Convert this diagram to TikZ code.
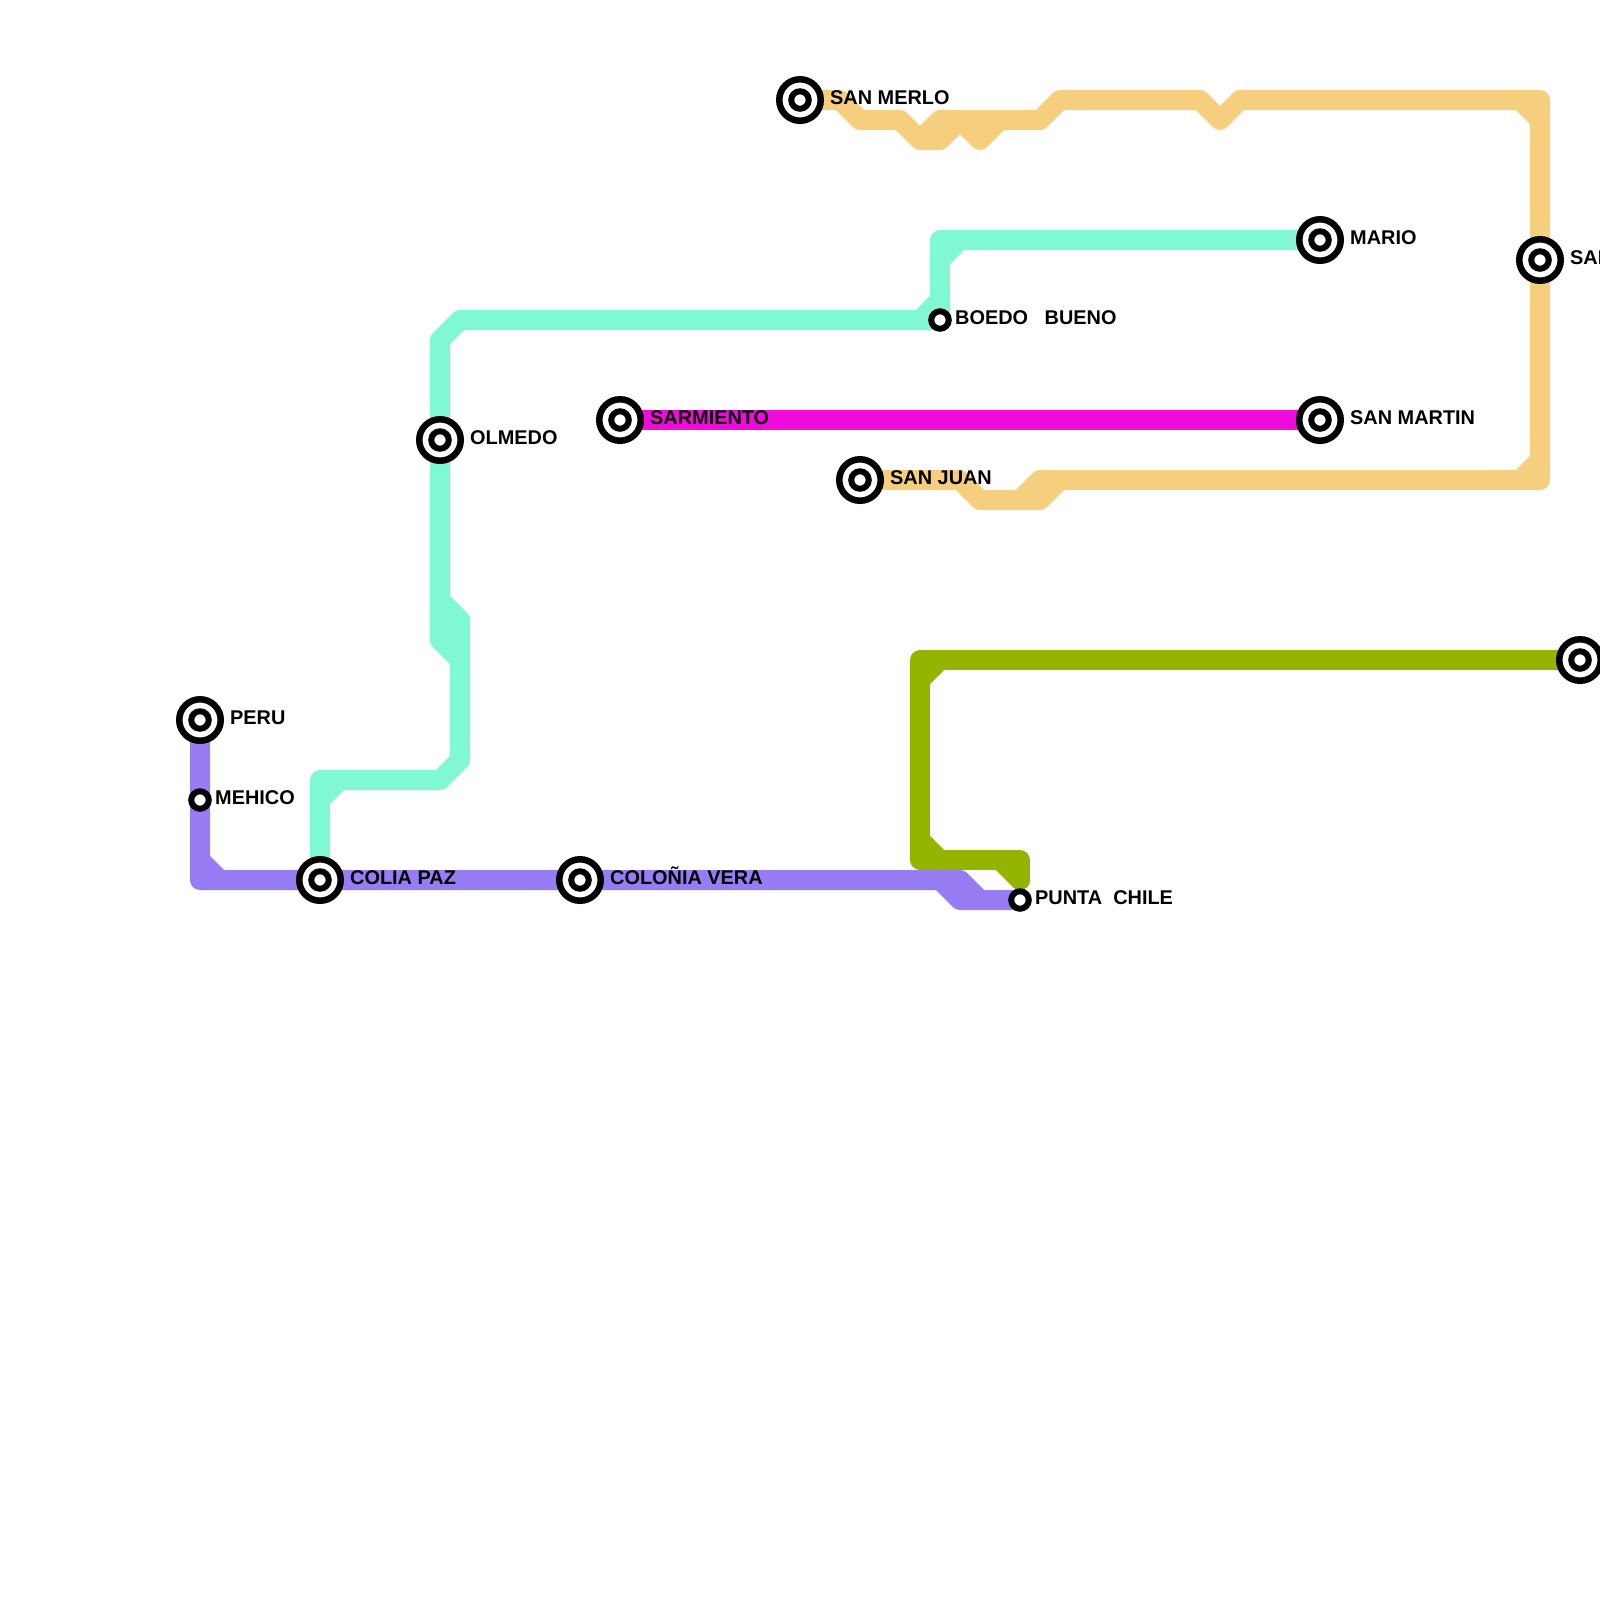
\documentclass[tikz,border=0pt]{standalone}
\usepackage{fontspec}
\setmainfont{Liberation Sans}
\usepackage{tikz}
\definecolor{mintline}{HTML}{7FF8D3}
\definecolor{sandline}{HTML}{F6CF7E}
\definecolor{oliveline}{HTML}{93B500}
\definecolor{violetline}{HTML}{977CF3}
\definecolor{pinkline}{HTML}{F00ADC}
\tikzset{
    metroline/.style={line width=0.2cm,line cap=round,line join=round},
    smallstop/.style={circle,draw=black,fill=white,line width=0.06cm,minimum size=0.175cm,inner sep=0pt},
    bigstop/.style={smallstop,line width=0.065cm,minimum size=0.415cm,label={[smallstop]center:{}}},
    stopname/.style={anchor=base west,inner sep=0pt,yshift=-0.045cm,font=\bfseries\fontsize{5.66}{6.8}\selectfont},
    smallname/.style={stopname,xshift=0.145cm},
    bigname/.style={stopname,xshift=0.295cm}
}
\begin{document}
\begin{tikzpicture}[x=0.2cm,y=-0.2cm]
            \useasboundingbox (0,0) rectangle (80,80);

            \coordinate (PERU) at (10,36);
            \coordinate (MEHICO) at (10,40);
            \coordinate (COLIA) at (16,44);
            \coordinate (COLONIA) at (29,44);
            \coordinate (PUNTA) at (51,45);
            \coordinate (OLMEDO) at (22,22);
            \coordinate (BOEDO) at (47,16);
            \coordinate (MARIO) at (66,12);
            \coordinate (SARMIENTO) at (31,21);
            \coordinate (MARTIN) at (66,21);
            \coordinate (JUAN) at (43,24);
            \coordinate (MERLO) at (40,5);
            \coordinate (SAN) at (77,13);
            \coordinate (OLIVEEND) at (79,33);

            % violet
            \draw[metroline,violetline] (PERU)--(10,44)--(48,44)--(49,45)--(PUNTA);
            \draw[metroline,violetline] (10,43)--(11,44);
            \draw[metroline,violetline] (47,44)--(48,45)--(49,45);

            % mint
            \draw[metroline,mintline] (MARIO)--(47,12)--(BOEDO)--(23,16)--(22,17)--(22,32)--(23,33);
            \draw[metroline,mintline] (47,13)--(48,12);
            \draw[metroline,mintline] (46,16)--(47,15);
            \draw[metroline,mintline] (22,30)--(23,31)--(23,38)--(22,39)--(16,39)--(COLIA);
            \draw[metroline,mintline] (16,40)--(17,39);

            % sand
            \draw[metroline,sandline] (MERLO)--(42,5)--(43,6)--(45,6)--(46,7)--(47,7)--(48,6)--(49,7)--(50,6)--(52,6)--(53,5)--(60,5)--(61,6)--(62,5)--(77,5)--(77,24)--(52,24)--(51,25)--(49,25)--(48,24)--(JUAN);
            \draw[metroline,sandline] (46,7)--(47,6)--(50,6);
            \draw[metroline,sandline] (76,5)--(77,6);
            \draw[metroline,sandline] (76,24)--(77,23);
            \draw[metroline,sandline] (51,25)--(52,25)--(53,24);

            % olive
            \draw[metroline,oliveline] (OLIVEEND)--(46,33)--(46,43)--(51,43)--(51,44);
            \draw[metroline,oliveline] (46,34)--(47,33);
            \draw[metroline,oliveline] (46,42)--(47,43);
            \draw[metroline,oliveline] (50,43)--(51,44);

            % pink
            \draw[metroline,pinkline] (SARMIENTO)--(MARTIN);

            \node[bigstop] (perustop) at (PERU) {};
            \node[smallstop] (mehicostop) at (MEHICO) {};
            \node[bigstop] (coliastop) at (COLIA) {};
            \node[bigstop] (coloniastop) at (COLONIA) {};
            \node[smallstop] (puntastop) at (PUNTA) {};
            \node[bigstop] (olmedostop) at (OLMEDO) {};
            \node[smallstop] (boedostop) at (BOEDO) {};
            \node[bigstop] (mariostop) at (MARIO) {};
            \node[bigstop] (sarmientostop) at (SARMIENTO) {};
            \node[bigstop] (martinstop) at (MARTIN) {};
            \node[bigstop] (juanstop) at (JUAN) {};
            \node[bigstop] (merlostop) at (MERLO) {};
            \node[bigstop] (sanstop) at (SAN) {};
            \node[bigstop] (oliveendstop) at (OLIVEEND) {};

            \node[bigname] (perulabel) at (PERU) {PERU};
            \node[smallname] (mehicolabel) at (MEHICO) {MEHICO};
            \node[bigname] (colialabel) at (COLIA) {COLIA PAZ};
            \node[bigname] (colonialabel) at (COLONIA) {COLOÑIA VERA};
            \node[smallname] (puntalabel) at (PUNTA) {PUNTA\ \ CHILE};
            \node[bigname] (olmedolabel) at (OLMEDO) {OLMEDO};
            \node[smallname] (boedolabel) at (BOEDO) {BOEDO\ \ \ BUENO};
            \node[bigname] (mariolabel) at (MARIO) {MARIO};
            \node[bigname] (sarmientolabel) at (SARMIENTO) {SARMIENTO};
            \node[bigname] (martinlabel) at (MARTIN) {SAN MARTIN};
            \node[bigname] (juanlabel) at (JUAN) {SAN JUAN};
            \node[bigname] (merlolabel) at (MERLO) {SAN MERLO};
            \node[bigname] (sanlabel) at (SAN) {SAN};
        \end{tikzpicture}
\end{document}
